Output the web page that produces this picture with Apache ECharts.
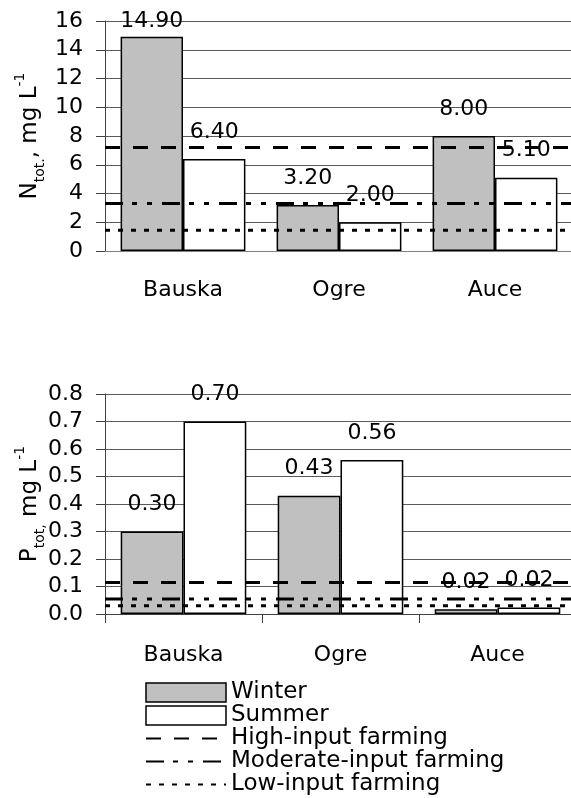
<!DOCTYPE html>
<html><head><meta charset="utf-8">
<script src="https://cdn.jsdelivr.net/npm/echarts@6/dist/echarts.min.js"></script>
<style>html,body{margin:0;padding:0;background:#fff}#c{width:571px;height:798px}</style>
</head><body><div id="c"></div>
<script>
// ---- data ----
const categories = ['Bauska', 'Ogre', 'Auce'];
const nWinter = [14.90, 3.20, 8.00];
const nSummer = [6.40, 2.00, 5.10];
const pWinter = [0.30, 0.43, 0.017];
const pSummer = [0.70, 0.56, 0.024];
const seasonNames = ['Winter', 'Summer'];
const limitNames = ['High-input farming', 'Moderate-input farming', 'Low-input farming'];
const nLimits = [7.2, 3.3, 1.45];
const pLimits = [0.115, 0.055, 0.03];
const nAxis = { min: 0, max: 16, interval: 2 };
const pAxis = { min: 0, max: 0.8, interval: 0.1 };

// ---- layout / style ----
const FONT = '"DejaVu Sans", sans-serif';
const FS = 22;
const grids = [
  { left: 105, right: -2, top: 21, height: 230, containLabel: false, outerBoundsMode: 'none' },
  { left: 105, right: -5, top: 394, height: 220, containLabel: false, outerBoundsMode: 'none' }
];
const seasonColors = ['#c0c0c0', '#ffffff'];
const limitStyles = [
  { type: [15, 13], width: 3 },
  { type: [18, 9, 5, 10, 5, 10], width: 3 },
  { type: [5, 8], width: 3 }
];
const LABEL_H = 22;

function barData(values, axis, g) {
  return values.map(v => {
    const room = (axis.max - v) / axis.max * g.height + g.top - 10 - LABEL_H;
    return { value: v, label: { distance: Math.min(16, room) } };
  });
}

const rich = {
  m: { fontSize: 23, lineHeight: 34, fontFamily: FONT, color: '#000' },
  s: { fontSize: 14, lineHeight: 16, verticalAlign: 'bottom', fontFamily: FONT, color: '#000' },
  u: { fontSize: 14, lineHeight: 13, verticalAlign: 'top', fontFamily: FONT, color: '#000' }
};

function yAxis(gi, axis, name, decimals) {
  return {
    type: 'value', gridIndex: gi, min: axis.min, max: axis.max, interval: axis.interval,
    name: name, nameLocation: 'middle', nameGap: 58, nameMoveOverlap: false,
    nameTextStyle: { rich: rich },
    axisLine: { show: true, lineStyle: { color: '#404040', width: 1 } },
    axisTick: { show: true, length: 9, lineStyle: { color: '#404040' } },
    axisLabel: { fontSize: FS, fontFamily: FONT, color: '#000', margin: 22,
      formatter: v => Number(v).toFixed(decimals) },
    splitLine: { show: true, lineStyle: { color: '#5a5a5a', width: 1 } }
  };
}

function xCat(gi, showTick, margin, lineColor) {
  return {
    type: 'category', gridIndex: gi, data: categories,
    axisLine: { show: true, lineStyle: { color: lineColor, width: 1 } },
    axisTick: { show: showTick, length: 9, lineStyle: { color: '#404040' } },
    axisLabel: { fontSize: FS, fontFamily: FONT, color: '#000', margin: margin },
    splitLine: { show: false }
  };
}
function xVal(gi) {
  return { type: 'value', gridIndex: gi, min: 0, max: 1, show: false };
}

const series = [];
[[nWinter, nSummer, nAxis, nLimits], [pWinter, pSummer, pAxis, pLimits]].forEach((set, gi) => {
  const [w, s, axis, limits] = set;
  [w, s].forEach((vals, k) => {
    series.push({
      type: 'bar', name: seasonNames[k], xAxisIndex: gi, yAxisIndex: gi,
      data: barData(vals, axis, grids[gi]),
      barGap: '0%', barCategoryGap: '20%',
      itemStyle: { color: seasonColors[k], borderColor: '#000', borderWidth: 1.5 },
      label: { show: true, position: 'top', fontSize: FS, fontFamily: FONT, color: '#000',
        formatter: p => Number(p.value).toFixed(2) },
      emphasis: { disabled: true }, animation: false
    });
  });
  limits.forEach((v, k) => {
    series.push({
      type: 'line', name: limitNames[k], xAxisIndex: gi + 2, yAxisIndex: gi,
      data: [[0, v], [1, v]], symbol: 'none', silent: true,
      itemStyle: { color: '#000' },
      lineStyle: { color: '#000', width: limitStyles[k].width, type: limitStyles[k].type },
      z: 5, animation: false
    });
  });
});

const legendData = seasonNames.map((n, k) => ({
  name: n, icon: 'rect',
  itemStyle: { color: seasonColors[k], borderColor: '#000', borderWidth: 1.5 }
})).concat(limitNames.map(n => ({
  name: n, itemStyle: { color: 'rgba(0,0,0,0)', borderWidth: 0, opacity: 0 }
})));

const chart = echarts.init(document.getElementById('c'), null, { renderer: 'canvas' });
chart.setOption({
  backgroundColor: '#fff',
  animation: false,
  grid: grids,
  xAxis: [xCat(0, false, 28, '#808080'), xCat(1, true, 30, '#404040'), xVal(0), xVal(1)],
  yAxis: [
    yAxis(0, nAxis, '{m|N}{s|tot.}{m|, mg L}{u|-1}', 0),
    yAxis(1, pAxis, '{m|P}{s|tot,}{m| mg L}{u|-1}', 1)
  ],
  legend: {
    orient: 'vertical', left: 145, top: 681, itemWidth: 80, itemHeight: 19, itemGap: 0,
    selectedMode: false, padding: 0,
    textStyle: { fontSize: 23, fontFamily: FONT, color: '#000', lineHeight: 21.3 },
    data: legendData
  },
  series: series
});
</script>
</body></html>
